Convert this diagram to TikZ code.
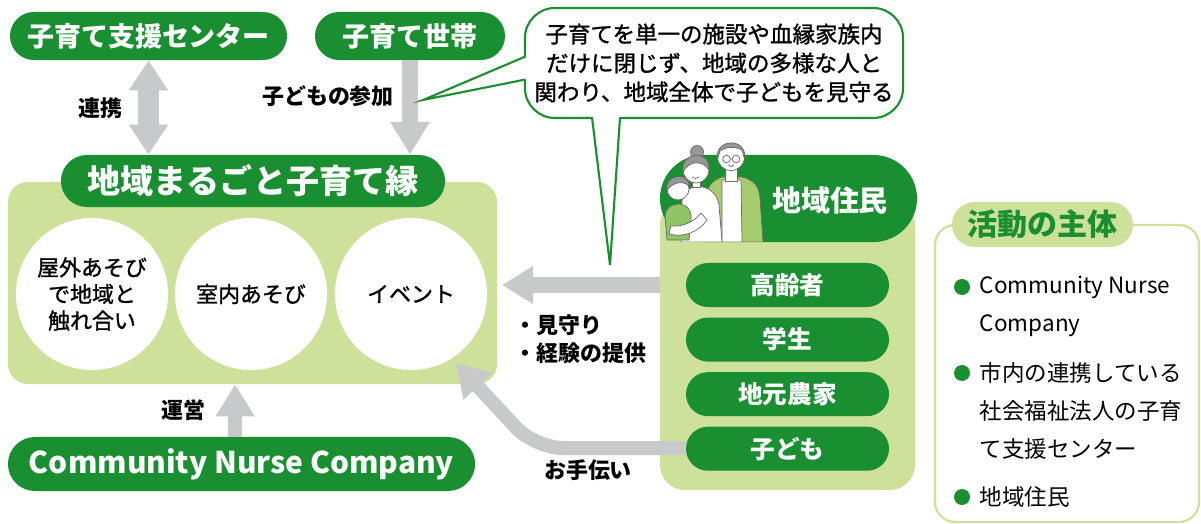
\documentclass[tikz,border=0pt]{standalone}
\usepackage{fontspec}
\setmainfont{Noto Sans CJK JP}
\newfontfamily\jpmid[FakeBold=1.2]{Noto Sans CJK JP}
\usetikzlibrary{arrows.meta, positioning, shapes.misc}

\definecolor{leaf}{RGB}{26,143,49}
\definecolor{sprout}{RGB}{205,225,155}
\definecolor{arrowgray}{RGB}{200,201,202}
\definecolor{cardigan}{RGB}{165,205,110}
\definecolor{inkgray}{RGB}{105,105,105}
\definecolor{hairgray}{RGB}{150,150,150}

\newcommand{\fsz}[2]{\fontsize{#1pt}{#2pt}\selectfont}

\begin{document}
\begin{tikzpicture}[x=0.025cm, y=-0.025cm,
    pill/.style={rounded rectangle, fill=leaf, text=white, inner sep=0pt},
    toppill/.style={pill, minimum height=1.2cm, font=\fsz{19.2}{22}\bfseries},
    sub/.style={pill, minimum width=5.075cm, minimum height=1.1cm, font=\fsz{17.5}{20}\bfseries},
    disc/.style={circle, fill=white, minimum size=3.8cm, inner sep=0pt, align=center, font=\jpmid\fsz{15.6}{18.9}},
    tag/.style={font=\fsz{15.6}{20}\bfseries, align=left},
    listtext/.style={anchor=west, align=left, font=\fsz{16}{27}},
    dot/.style={circle, fill=leaf, minimum size=0.4cm, inner sep=0pt},
    link/.style={draw=arrowgray, line width=0.5cm, {Triangle[width=0.93cm,length=0.75cm]}-{Triangle[width=0.93cm,length=0.75cm]}},
    feed/.style={draw=arrowgray, line width=0.42cm, -{Triangle[width=0.93cm,length=0.82cm]}},
    flow/.style={draw=arrowgray, line width=0.4cm, -{Triangle[width=0.9cm,length=0.78cm]}},
    lift/.style={draw=arrowgray, line width=0.35cm, -{Triangle[width=0.92cm,length=0.8cm]}}
  ]
  \useasboundingbox (0,0) rectangle (1201,524);

  % top badges
  \node[toppill, minimum width=6.925cm] (center) at (148.5,36) {子育て支援センター};
  \node[toppill, minimum width=4.75cm] (household) at (410,36) {子育て世帯};

  % the hub with its three activities
  \node[fill=sprout, rounded corners=0.5cm, minimum width=12.225cm, minimum height=5.05cm] (hubbox) at (252.5,283) {};
  \node[pill, minimum width=9.6cm, minimum height=1.3cm, font=\fsz{23.5}{26}\bfseries] (hub) at (253,181) {地域まるごと子育て縁};
  \node[disc] (outdoor) at (92,294) {屋外あそび\\で地域と\\触れ合い};
  \node[disc] (indoor) at (251,294) {室内あそび};
  \node[disc] (event) at (411,294) {イベント};

  % operator
  \node[pill, minimum width=11.675cm, minimum height=1.35cm, font=\fsz{21.3}{24}\bfseries] (cnc) at (241.5,464) {Community Nurse Company};

  % arrows into the hub
  \draw[link] (center.south) -- (center.south |- hub.north);
  \node[tag] (linklabel) at (100,108) {連携};
  \draw[feed] (household.south) -- (household.south |- hub.north);
  \node[tag] (joinlabel) at (328,96) {子どもの参加};
  \coordinate (runbase) at ([xshift=-0.16cm]cnc.north);
  \draw[lift] (runbase) -- (runbase |- hubbox.south);
  \node[tag] (runlabel) at (183,410) {運営};

  % residents panel
  \coordinate (watchtip) at (502,285);
  \draw[flow] (660,285) -- (watchtip);
  \node[fill=sprout, rounded corners=0.625cm, minimum width=6.375cm, minimum height=7.25cm] (panel) at (787.5,345) {};
  \node[pill, minimum width=6.425cm, minimum height=2.175cm] (residents) at (788.5,198.5) {};

  % family figure on the badge
  \begin{scope}[line width=0.5pt, draw=inkgray]
    \clip (650,120) rectangle (780,242);
    % father
    \filldraw[fill=cardigan] (705,242) -- (706,196) .. controls (708,184) and (714,180) .. (722,177) -- (742,177) .. controls (754,180) and (759,186) .. (760,198) -- (763,242) -- cycle;
    \filldraw[fill=white] (722,242) -- (722,180) -- (741,180) -- (742,242) -- cycle;
    \filldraw[fill=white] (725,166) rectangle (737,181);
    \filldraw[fill=white] (731,157) circle (13.5);
    \filldraw[fill=hairgray] (717.5,159) .. controls (714,138) and (748,137) .. (744.5,159) -- (742,150) .. controls (735,146) and (725,147) .. (720,151) -- cycle;
    \draw (726.5,159) circle (3.8) (736,159) circle (3.8) (730.3,159) -- (732.2,159);
    \draw (728,165) .. controls (730,167) and (733,167) .. (734,165);
    % mother
    \filldraw[fill=white] (681,242) -- (682,201) .. controls (684,191) and (690,187) .. (697,186) .. controls (709,187) and (717,193) .. (719,205) -- (722,242) -- cycle;
    \filldraw[fill=white] (692,177) rectangle (700,187);
    \filldraw[fill=hairgray] (697,152) circle (6.5);
    \filldraw[fill=white] (696,170) circle (13);
    \filldraw[fill=hairgray] (683,172) .. controls (680,151) and (711,149) .. (709,170) .. controls (704,161) and (690,159) .. (683,172) -- cycle;
    \draw (692,177) .. controls (694,179) and (697,179) .. (699,177);
    % child
    \filldraw[fill=cardigan!85!leaf] (667,240) -- (665,216) .. controls (666,207) and (672,204) .. (679,204) .. controls (688,205) and (692,211) .. (691,221) -- (689,240) -- cycle;
    \filldraw[fill=white] (678,189) circle (11);
    \filldraw[fill=hairgray] (667,190) .. controls (664,174) and (690,172) .. (689,186) .. controls (684,181) and (674,181) .. (667,190) -- cycle;
    \filldraw[fill=white] (669,234) .. controls (683,238) and (699,232) .. (707,220) -- (701,213) .. controls (694,222) and (683,227) .. (671,226) -- cycle;
  \end{scope}
  \node[font=\fsz{20.6}{24}\bfseries, text=white] (residentslabel) at (830,200) {地域住民};

  \node[sub] (elder) at (787.5,285) {高齢者};
  \node[sub, below=0.25cm of elder] (student) {学生};
  \node[sub, below=0.25cm of student] (farmer) {地元農家};
  \node[sub, below=0.25cm of farmer] (kids) {子ども};

  \node[tag, anchor=west] (watchlabel) at (510,339) {・見守り\\・経験の提供};

  % help from the children
  \coordinate (helpbend) at (535,448);
  \coordinate (helptip) at (456,363);
  \draw[lift, rounded corners=0.7cm] (kids.west |- helpbend) -- (helpbend) -- (helptip);
  \node[tag] (helplabel) at (588,470) {お手伝い};

  % speech bubble
  \node[draw=leaf, line width=1.5pt, fill=white, rounded corners=0.75cm, minimum width=9.45cm, minimum height=2.75cm, align=center, font=\jpmid\fsz{16}{20.6}] (bubble) at (714,63) {子育てを単一の施設や血縁家族内\\だけに閉じず、地域の多様な人と\\関わり、地域全体で子どもを見守る};
  \fill[white] (529,55) -- (423,100) -- (529,79) -- cycle;
  \draw[leaf, line width=1.5pt] (525.5,56.5) -- (423,100) -- (525.5,79.5);
  \fill[white] (592,112) -- (610,265) -- (620,112) -- cycle;
  \draw[leaf, line width=1.5pt] (592,117.5) -- (610,265) -- (620,117.5);

  % who runs it
  \draw[sprout, line width=1.6pt, rounded corners=0.5cm] (935,225) rectangle (1199,522);
  \node[rounded rectangle, fill=sprout, text=leaf, inner sep=0pt, minimum width=4.525cm, minimum height=1.125cm, font=\fsz{21.4}{24}\bfseries] (actors) at (1042.5,224.5) {活動の主体};
  \node[dot] (dota) at (962,287) {};
  \node[listtext] (itema) at (975,306) {Community Nurse\\Company};
  \node[dot] (dotb) at (962,373) {};
  \node[listtext] (itemb) at (975,411) {市内の連携している\\社会福祉法人の子育\\て支援センター};
  \node[dot] (dotc) at (962,497) {};
  \node[listtext] (itemc) at (975,497) {地域住民};
\end{tikzpicture}
\end{document}
